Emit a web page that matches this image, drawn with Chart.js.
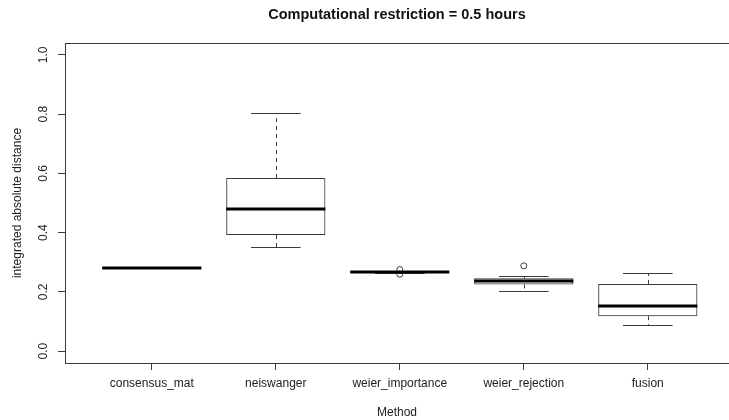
<!DOCTYPE html>
<html>
<head>
<meta charset="utf-8">
<title>Computational restriction = 0.5 hours</title>
<script src="https://cdn.jsdelivr.net/npm/chart.js@4.4.1/dist/chart.umd.min.js"></script>
<style>
  html, body { margin: 0; padding: 0; background: #ffffff; }
  canvas { display: block; }
</style>
</head>
<body>
<canvas id="chart" width="729" height="420"></canvas>
<script>
// Methods compared, one box per method
const methods = ['consensus_mat', 'neiswanger', 'weier_importance', 'weier_rejection', 'fusion'];

// Five-number summaries of the integrated absolute distance
const whiskerLow  = [0.280, 0.351, 0.264, 0.203, 0.088];
const quartile1   = [0.280, 0.392, 0.265, 0.225, 0.118];
const medians     = [0.280, 0.480, 0.267, 0.238, 0.151];
const quartile3   = [0.280, 0.584, 0.269, 0.246, 0.227];
const whiskerHigh = [0.280, 0.804, 0.270, 0.253, 0.263];

// Points beyond the whiskers
const outliers = [[], [], [0.2755, 0.2595], [0.288], []];

// Axis ticks
const yTicks = [0.0, 0.2, 0.4, 0.6, 0.8, 1.0];
const yTickLabels = ['0.0', '0.2', '0.4', '0.6', '0.8', '1.0'];
const xTicks = [1, 2, 3, 4, 5];

const FONT = '"Liberation Sans", Arial, Helvetica, sans-serif';
const INK = '#222222';
const LINE = '#3a3a3a';

// Box datasets: floating bars from Q1 to Q3 at positions 1..n
const boxData = methods.map((m, i) => ({ x: i + 1, y: [quartile1[i], quartile3[i]] }));
const outlierData = [];
outliers.forEach((vals, i) => vals.forEach(v => outlierData.push({ x: i + 1, y: v })));

// Whiskers, staples, medians, plot frame and rotated y tick labels
const boxplotExtras = {
  id: 'boxplotExtras',
  afterDatasetsDraw(chart) {
    const { ctx, scales: { x, y } } = chart;
    ctx.save();
    ctx.lineWidth = 1;
    ctx.strokeStyle = LINE;
    const crisp = v => Math.round(v) + 0.5;
    methods.forEach((m, i) => {
      const c = i + 1;
      const cx = crisp(x.getPixelForValue(c));
      // dashed whiskers
      ctx.setLineDash([4, 4]);
      ctx.beginPath();
      if (whiskerHigh[i] > quartile3[i]) {
        ctx.moveTo(cx, y.getPixelForValue(quartile3[i]));
        ctx.lineTo(cx, y.getPixelForValue(whiskerHigh[i]));
      }
      if (whiskerLow[i] < quartile1[i]) {
        ctx.moveTo(cx, y.getPixelForValue(quartile1[i]));
        ctx.lineTo(cx, y.getPixelForValue(whiskerLow[i]));
      }
      ctx.stroke();
      ctx.setLineDash([]);
      // staples (half the box width)
      const sl = x.getPixelForValue(c - 0.2);
      const sr = x.getPixelForValue(c + 0.2);
      ctx.beginPath();
      [whiskerHigh[i], whiskerLow[i]].forEach(v => {
        const py = crisp(y.getPixelForValue(v));
        ctx.moveTo(sl, py);
        ctx.lineTo(sr, py);
      });
      ctx.stroke();
    });
    // medians
    ctx.strokeStyle = '#000000';
    ctx.lineWidth = 3;
    ctx.lineCap = 'butt';
    methods.forEach((m, i) => {
      const c = i + 1;
      const py = Math.round(y.getPixelForValue(medians[i]));
      ctx.beginPath();
      ctx.moveTo(x.getPixelForValue(c - 0.4), py);
      ctx.lineTo(x.getPixelForValue(c + 0.4), py);
      ctx.stroke();
    });
    ctx.restore();
  },
  afterDraw(chart) {
    const { ctx, chartArea, scales: { y } } = chart;
    ctx.save();
    // frame around the plotting region
    ctx.strokeStyle = LINE;
    ctx.lineWidth = 1;
    ctx.strokeRect(Math.round(chartArea.left) + 0.5, Math.round(chartArea.top) + 0.5,
                   Math.round(chartArea.right - chartArea.left) + 4, Math.round(chartArea.bottom - chartArea.top));
    // y tick labels, written parallel to the axis
    ctx.fillStyle = INK;
    ctx.font = '12px ' + FONT;
    ctx.textAlign = 'center';
    ctx.textBaseline = 'middle';
    y.ticks.forEach((t, k) => {
      const py = y.getPixelForValue(t.value);
      ctx.save();
      ctx.translate(chartArea.left - 21, py);
      ctx.rotate(-Math.PI / 2);
      ctx.fillText(yTickLabels[k], 0, 0);
      ctx.restore();
    });
    ctx.restore();
  }
};

new Chart(document.getElementById('chart'), {
  type: 'bar',
  data: {
    datasets: [
      {
        type: 'bar',
        data: boxData,
        backgroundColor: 'rgba(255,255,255,0)',
        borderColor: LINE,
        borderWidth: 1,
        borderSkipped: false,
        categoryPercentage: 1.0,
        barPercentage: 0.8,
        order: 2
      },
      {
        type: 'scatter',
        data: outlierData,
        pointStyle: 'circle',
        pointRadius: 3,
        pointBorderWidth: 1,
        pointBorderColor: LINE,
        pointBackgroundColor: 'rgba(255,255,255,0)',
        order: 1
      }
    ]
  },
  options: {
    responsive: false,
    animation: false,
    devicePixelRatio: 1,
    layout: { padding: 0, autoPadding: false },
    plugins: {
      legend: { display: false },
      tooltip: { enabled: false },
      title: {
        display: true,
        text: 'Computational restriction = 0.5 hours',
        fullSize: false,
        color: '#111111',
        font: { family: FONT, size: 14.5, weight: 'bold', lineHeight: 1.2 },
        padding: { top: 6, bottom: 19.6 }
      }
    },
    scales: {
      x: {
        type: 'linear',
        offset: false,
        min: 0.3,
        max: 5.655,
        afterBuildTicks: s => { s.ticks = xTicks.map(v => ({ value: v })); },
        afterFit: s => { s.height = 57; s.paddingLeft = 0; s.paddingRight = 0; },
        grid: { display: true, offset: false, drawOnChartArea: false, drawTicks: true, tickLength: 7, color: LINE, lineWidth: 1 },
        border: { display: false },
        ticks: {
          color: INK,
          font: { family: FONT, size: 12 },
          padding: 6,
          maxRotation: 0,
          minRotation: 0,
          autoSkip: false,
          callback: v => methods[Math.round(v) - 1] || ''
        },
        title: {
          display: true,
          text: 'Method',
          color: INK,
          font: { family: FONT, size: 12 },
          padding: { top: 0, bottom: 0 }
        }
      },
      y: {
        type: 'linear',
        min: -0.04,
        max: 1.04,
        afterBuildTicks: s => { s.ticks = yTicks.map(v => ({ value: v })); },
        afterFit: s => { s.width = 65; },
        grid: { display: true, drawOnChartArea: false, drawTicks: true, tickLength: 7, color: LINE, lineWidth: 1 },
        border: { display: false },
        ticks: { display: false },
        title: {
          display: true,
          text: 'integrated absolute distance',
          color: INK,
          font: { family: FONT, size: 12 },
          padding: { top: 10, bottom: 0 }
        }
      }
    }
  },
  plugins: [boxplotExtras]
});
</script>
</body>
</html>
